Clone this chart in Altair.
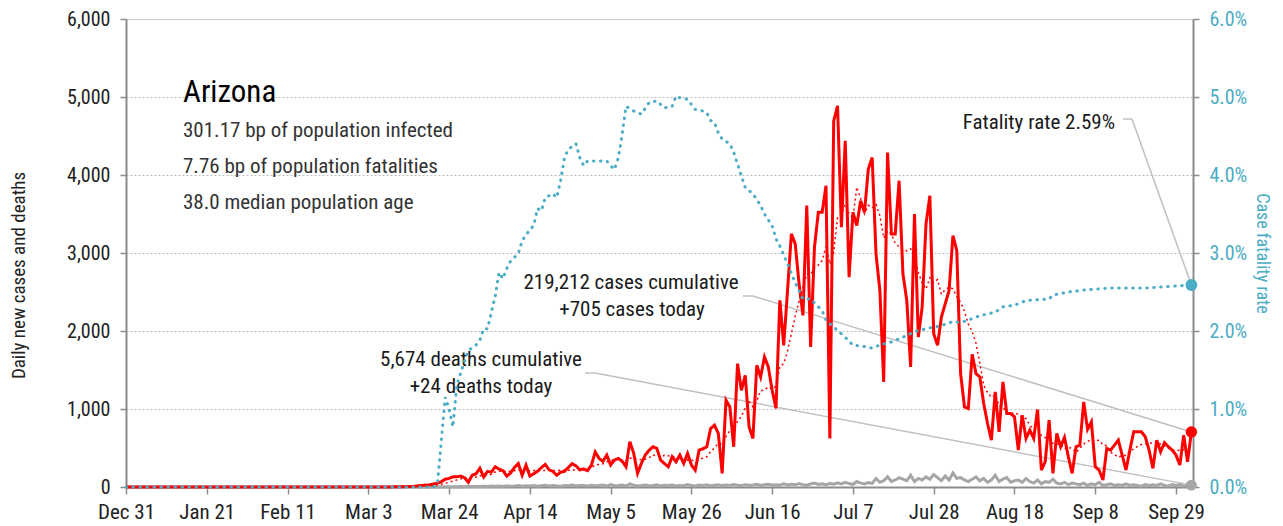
import altair as alt
import pandas as pd

# ---------------- data ----------------
first_day = "2019-12-31"
n_days = 278                      # Dec 31 2019 .. Oct 3 2020
series_start = 66                 # index of first listed daily value (Mar 6)

cases = [
    0, 0, 0, 1, 2, 3, 4, 5, 7, 10, 15, 20, 25, 30, 40, 50, 70,
    100, 110, 130, 130, 140, 120, 60, 150, 170, 240,
    130, 200, 190, 260, 230, 210, 140, 180, 250, 300,
    150, 280, 140, 170, 200, 250, 290, 220, 200, 150,
    190, 200, 250, 300, 270, 220, 230, 210, 280, 450,
    367, 330, 409, 281, 345, 367, 330, 260, 580, 431,
    175, 303, 409, 470, 516, 495, 345, 300, 260, 388,
    324, 409, 303, 431, 281, 217, 473, 490, 516, 750,
    793, 686, 175, 1113, 1027, 516, 1582, 1240, 1432, 771,
    623, 1560,
    1411, 1667, 1539, 1241, 1006, 2392, 1816, 2520, 3245, 3117,
    2605, 2200, 3607, 1795, 3074, 3522, 3522, 3863, 622, 4694,
    4886, 3330, 4438, 2690, 3522, 3351, 3671, 3522, 4076, 4225,
    2989, 2520, 1347, 4289, 3245, 3245, 3927, 2733, 2392, 1539,
    3500, 1923, 2306, 3373, 3735, 1966, 1816, 2178, 2349, 2520,
    3223, 3031, 1454,
    1027, 1006, 1701, 1454, 1411, 1070, 814, 601, 1219, 708,
    1347, 942, 942, 900, 473, 921, 622, 729, 622, 993,
    217, 324, 857, 175, 686, 516, 635, 388, 175, 516,
    537, 1091, 738, 835, 260, 217, 90, 495, 473, 537,
    601, 409, 217, 473, 708, 708, 708, 644, 473, 239,
    601, 452, 567, 516, 473, 409, 281, 665, 324, 705,
]

deaths = [
    0, 0, 0, 0, 0, 0, 0, 0, 0, 0, 0, 1, 0, 1, 2, 1, 2,
    3, 2, 4, 3, 5, 4, 6, 5, 8, 7,
    10, 6, 12, 9, 14, 8, 16, 10, 12, 18,
    9, 15, 12, 20, 10, 16, 22, 12, 18, 14,
    10, 20, 16, 24, 12, 18, 20, 14, 22, 16,
    18, 24, 12, 30, 16, 20, 26, 14, 40, 22,
    12, 18, 24, 16, 20, 28, 14, 22, 18, 26,
    12, 20, 16, 30, 18, 14, 24, 20, 28, 16,
    22, 30, 18, 26, 20, 32, 24, 18, 30, 22,
    26, 34,
    20, 28, 36, 24, 30, 22, 40, 26, 34, 28,
    44, 30, 24, 38, 50, 32, 42, 28, 46, 36,
    54, 40, 60, 44, 32, 70, 50, 40, 58, 46,
    110, 60, 80, 130, 70, 90, 120, 100, 80, 150,
    70, 110, 90, 130, 100, 160, 120, 80, 140, 90,
    180, 110, 120,
    90, 70, 100, 130, 80, 110, 60, 90, 150, 70,
    100, 120, 60, 80, 90, 60, 110, 70, 50, 90,
    40, 70, 60, 100, 50, 40, 60, 30, 50, 40,
    30, 50, 20, 40, 30, 60, 20, 30, 40, 20,
    30, 20, 40, 20, 30, 20, 10, 30, 20, 30,
    20, 40, 20, 10, 30, 20, 30, 10, 20, 24,
]

# case fatality rate (%) read at these day indices (0 = Dec 31)
rate_days = [0, 80, 81, 82, 83, 84, 85, 86, 87, 89, 91, 92, 93, 94, 96, 97, 98, 99, 100,
             102, 103, 105, 106, 107, 108, 109, 111, 112, 113, 114, 115, 117, 118, 119,
             120, 121, 123, 125, 126, 127, 128, 129, 130, 132, 134, 136, 138, 140, 142,
             143, 144, 146, 148, 150, 151, 152, 153, 154, 155, 157, 158, 159, 160, 161,
             163, 165, 166, 168, 169, 170, 172, 174, 176, 178, 181, 182, 184, 187, 189,
             192, 194, 196, 199, 202, 205, 208, 212, 215, 217, 219, 221, 224, 226, 228,
             231, 234, 237, 240, 241, 245, 250, 256, 265, 271, 277]
rate_pct = [0.0, 0.0, 0.05, 0.6, 1.15, 1.0, 0.77, 1.3, 1.46, 1.75, 1.82, 1.88, 2.03, 2.03,
            2.45, 2.75, 2.67, 2.8, 2.9, 2.99, 3.16, 3.3, 3.35, 3.57, 3.54, 3.71, 3.76,
            3.71, 3.93, 4.22, 4.33, 4.40, 4.22, 4.12, 4.18, 4.18, 4.18, 4.18, 4.12,
            4.07, 4.22, 4.52, 4.88, 4.82, 4.78, 4.93, 4.95, 4.86, 4.88, 5.01, 4.99,
            4.97, 4.84, 4.82, 4.80, 4.70, 4.67, 4.54, 4.46, 4.40, 4.29, 4.14, 3.99,
            3.84, 3.76, 3.61, 3.50, 3.35, 3.18, 3.09, 2.86, 2.62, 2.41, 2.41, 2.26,
            2.14, 2.05, 1.92, 1.82, 1.80, 1.78, 1.82, 1.86, 1.92, 1.99, 2.03, 2.07,
            2.12, 2.11, 2.14, 2.18, 2.22, 2.24, 2.31, 2.33, 2.39, 2.40, 2.41, 2.46,
            2.50, 2.53, 2.55, 2.55, 2.57, 2.59]

tick_dates = ["2019-12-31", "2020-01-21", "2020-02-11", "2020-03-03", "2020-03-24",
              "2020-04-14", "2020-05-05", "2020-05-26", "2020-06-16", "2020-07-07",
              "2020-07-28", "2020-08-18", "2020-09-08", "2020-09-29"]

state_name = "Arizona"
stat_lines = ["301.17 bp of population infected",
              "7.76 bp of population fatalities",
              "38.0 median population age"]
cases_note = ["219,212 cases cumulative", "+705 cases today"]
deaths_note = ["5,674 deaths cumulative", "+24 deaths today"]
rate_note = "Fatality rate 2.59%"

# ---------------- tables ----------------
dates = pd.date_range(first_day, periods=n_days, freq="D")
lead = [0] * series_start
daily = pd.DataFrame({"date": dates, "cases": lead + cases, "deaths": lead + deaths})
cases_df = daily[["date", "cases"]].rename(columns={"cases": "v"})
deaths_df = daily[["date", "deaths"]].rename(columns={"deaths": "v"})
rate_df = pd.DataFrame({"date": dates[rate_days], "r": [p / 100 for p in rate_pct]})
last_case = cases_df.tail(1)
last_death = deaths_df.tail(1)
last_rate = rate_df.tail(1)

# ---------------- styles ----------------
FONT = "Roboto Condensed, Liberation Sans Narrow, Arial Narrow, DejaVu Sans Condensed, sans-serif"
RED = "#ff0000"
TEAL = "#4bacc6"
GRAY = "#a6a6a6"
LEADER = "#c0c0c0"
AXIS = "#8c8c8c"
LBL = 20

def dt(s):
    y, m, d = (int(p) for p in s.split("-"))
    return alt.DateTime(year=y, month=m, date=d)

X = alt.X("date:T",
          scale=alt.Scale(domain=[dt("2019-12-31"), alt.DateTime(year=2020, month=10, date=3, hours=10)]),
          axis=alt.Axis(values=[dt(s) for s in tick_dates], format="%b %-d", title=None,
                        grid=False, domainColor=AXIS, domainWidth=2, tickColor=AXIS,
                        tickWidth=1.5, tickSize=7, labelFontSize=21, labelColor="#222",
                        labelPadding=7, labelFont=FONT, labelFlush=False,
                        labelOverlap=False))
Y = alt.Y("v:Q", scale=alt.Scale(domain=[0, 6000], nice=False),
          axis=alt.Axis(values=[0, 1000, 2000, 3000, 4000, 5000, 6000], format=",.0f",
                        title="Daily new cases and deaths", titleFontSize=19,
                        titleFontWeight="normal", titleColor="#222", titleFont=FONT,
                        titleAngle=270, titleAlign="center", titleBaseline="middle",
                        titleX=-108, titleY=256,
                        grid=True, gridDash=[2, 2], gridColor="#bdbdbd",
                        gridWidth=1, domainColor=AXIS, domainWidth=2, tickColor=AXIS,
                        tickWidth=1.5, tickSize=6, labelFontSize=LBL, labelColor="#222",
                        labelPadding=10, labelFont=FONT, labelOverlap=False))
R = alt.Y("r:Q", scale=alt.Scale(domain=[0, 0.06], nice=False),
          axis=alt.Axis(orient="right", values=[0, 0.01, 0.02, 0.03, 0.04, 0.05, 0.06],
                        format=".1%", title="Case fatality rate", titleFontSize=18,
                        titleFontWeight="normal", titleColor=TEAL, titleFont=FONT,
                        titlePadding=6, grid=False, domainColor=AXIS, domainWidth=2,
                        tickColor=AXIS, tickWidth=1.5, tickSize=6, labelFontSize=LBL,
                        labelColor=TEAL, labelPadding=10, labelFont=FONT,
                        labelOverlap=False))

deaths_line = alt.Chart(deaths_df).mark_line(color=GRAY, strokeWidth=3).encode(x=X, y=Y)
cases_line = alt.Chart(cases_df).mark_line(color=RED, strokeWidth=3).encode(x=X, y=Y)
cases_avg = alt.Chart(cases_df).transform_window(
    v2="mean(v)", frame=[-6, 0]
).transform_calculate(v="datum.v2").mark_line(
    color=RED, strokeWidth=1.5, strokeDash=[2, 3]
).encode(x=X, y=Y)

case_pt = alt.Chart(last_case).mark_circle(color=RED, size=130, opacity=1).encode(x=X, y=Y)
death_pt = alt.Chart(last_death).mark_circle(color=GRAY, size=120, opacity=1).encode(x=X, y=Y)

case_leader = alt.Chart(last_case).mark_rule(color=LEADER, strokeWidth=1.5).encode(
    x=X, y=Y, x2=alt.value(627), y2=alt.value(277))
case_stub = alt.Chart(last_case).mark_rule(color=LEADER, strokeWidth=1.5).encode(
    x=alt.value(617), x2=alt.value(627), y=alt.value(277))
death_leader = alt.Chart(last_death).mark_rule(color=LEADER, strokeWidth=1.5).encode(
    x=X, y=Y, x2=alt.value(469), y2=alt.value(354))
death_stub = alt.Chart(last_death).mark_rule(color=LEADER, strokeWidth=1.5).encode(
    x=alt.value(459), x2=alt.value(469), y=alt.value(354))

def label(text, x, y, size, align="left", color="#1a1a1a", weight="normal"):
    return alt.Chart(pd.DataFrame({"t": [text]})).mark_text(
        align=align, baseline="middle", fontSize=size, font=FONT, color=color,
        fontWeight=weight
    ).encode(text="t:N", x=alt.value(x), y=alt.value(y))

texts = [
    label(state_name, 57, 74, 31, color="#000"),
    label(stat_lines[0], 57, 112, 21, color="#333"),
    label(stat_lines[1], 57, 148, 21, color="#333"),
    label(stat_lines[2], 57, 184, 21, color="#333"),
    label(cases_note[0], 505, 264, 21, align="center"),
    label(cases_note[1], 506, 291, 21, align="center"),
    label(deaths_note[0], 355, 341, 21, align="center"),
    label(deaths_note[1], 355, 368, 21, align="center"),
    label(rate_note, 989, 104, 21, align="right"),
]

left = alt.layer(case_stub, case_leader, death_stub, death_leader,
                 deaths_line, cases_line, cases_avg, case_pt, death_pt, *texts)

rate_line = alt.Chart(rate_df).mark_line(
    color=TEAL, strokeWidth=3, strokeDash=[0.5, 6.5], strokeCap="round"
).encode(x=X, y=R)
rate_pt = alt.Chart(last_rate).mark_circle(color=TEAL, size=140, opacity=1).encode(x=X, y=R)
rate_leader = alt.Chart(last_rate).mark_rule(color=LEADER, strokeWidth=1.5).encode(
    x=X, y=R, x2=alt.value(1006), y2=alt.value(100))
rate_stub = alt.Chart(last_rate).mark_rule(color=LEADER, strokeWidth=1.5).encode(
    x=alt.value(997), x2=alt.value(1006), y=alt.value(100))

right = alt.layer(rate_stub, rate_leader, rate_line, rate_pt)

chart = alt.layer(left, right).resolve_scale(y="independent").properties(
    width=1067, height=468,
    autosize=alt.AutoSizeParams(type="none"),
    padding={"left": 118, "top": 11, "right": 82, "bottom": 38},
).configure_view(stroke=None).configure(font=FONT)

chart.save("out.html", embed_options={"renderer": "svg", "actions": False})
